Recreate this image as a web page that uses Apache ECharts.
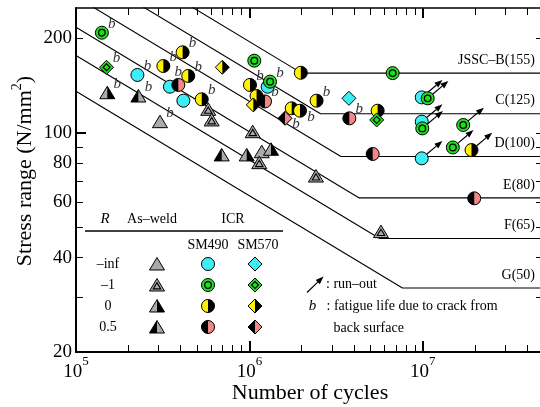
<!DOCTYPE html>
<html><head><meta charset="utf-8">
<script src="https://cdn.jsdelivr.net/npm/echarts@6.0.0/dist/echarts.min.js"></script>
<style>html,body{margin:0;padding:0;background:#fff}#c{width:540px;height:407px}</style>
</head><body><div id="c"></div>
<script>
// ---------------- data ----------------
const xLabelTicks = [1e5, 1e6, 1e7];
const xMajorTicks = [1e6, 1e7];
const xMinorTicks = [2e5,3e5,4e5,5e5,6e5,7e5,8e5,9e5,2e6,3e6,4e6,5e6,6e6,7e6,8e6,9e6,2e7,3e7,4e7];
const yLabelTicks = [20, 40, 60, 80, 100, 200];
const yMinorTicks = [20, 30, 40, 50, 60, 70, 80, 90, 200];
const yMajorTicks = [100];
const yRightTicks = [20, 30, 40, 50, 60, 70, 80, 90, 100, 200];

// JSSC design curves (N, stress range)
const snNames = ['JSSC\u2013B(155)', 'C(125)', 'D(100)', 'E(80)', 'F(65)', 'G(50)'];
const snB = [[1e5, 420.7], [2.00e6, 155], [5e7, 155]];
const snC = [[1e5, 339.3], [2.57e6, 115], [5e7, 115]];
const snD = [[1e5, 271.4], [3.37e6, 84], [5e7, 84]];
const snE = [[1e5, 217.2], [4.30e6, 62], [5e7, 62]];
const snF = [[1e5, 176.4], [5.64e6, 46], [5e7, 46]];
const snG = [[1e5, 135.7], [7.63e6, 32], [5e7, 32]];

// test results [N, stress range, note]  note: b = crack from back surface, r = run-out
const asWeldInf = [[3.05e5, 108.5, 'b'], [1.178e6, 87.0]];
const asWeldM1  = [[5.79e5, 118.8], [6.06e5, 109.9], [1.045e6, 100.8], [1.14e6, 80.3], [2.42e6, 72.8], [5.74e6, 48.4]];
const asWeld0   = [[1.515e5, 134.2, 'b'], [9.65e5, 85.0], [1.332e6, 88.6]];
const asWeld05  = [[2.29e5, 131.0, 'b'], [6.92e5, 85.0]];
const sm490Inf  = [[2.26e5, 152.9, 'b'], [3.48e5, 140.3], [4.16e5, 126.6], [1.275e6, 140.3], [9.86e6, 129.7, 'r'], [9.86e6, 108.5, 'r'], [9.86e6, 82.9, 'r']];
const sm490M1   = [[1.41e5, 208.5, 'b'], [1.067e6, 169.8], [1.315e6, 145.6, 'b'], [6.70e6, 155], [1.067e7, 128.8, 'r'], [9.93e6, 103.3, 'r'], [1.71e7, 105.9, 'r'], [1.49e7, 89.8, 'r']];
const sm490R0   = [[3.19e5, 163.3, 'b'], [4.12e5, 180.6, 'b'], [4.44e5, 151.8, 'b'], [5.31e5, 127.9, 'b'], [1.008e6, 142.1, 'b'], [1.10e6, 131.0], [1.754e6, 119.7], [1.958e6, 117.6, 'b3'], [1.98e6, 155.4], [2.44e6, 126.6, 'b'], [5.49e6, 117.6], [1.91e7, 88.1, 'r']];
const sm490R05  = [[3.89e5, 142.1, 'b2'], [1.23e6, 125.9, 'b'], [3.77e6, 111.2, 'b'], [5.14e6, 85.6], [1.98e7, 61.8]];
const sm570Inf  = [[3.75e6, 128.8]];
const sm570M1   = [[1.50e5, 161.8, 'b'], [5.42e6, 109.9]];
const sm570R0   = [[6.98e5, 161.8], [1.053e6, 122.7]];
const sm570R05  = [[1.605e6, 111.2, 'b3']];

// legend texts
const legendRowLabels = ['\u2013inf', '\u20131', '0', '0.5'];
const legendHeads = ['As\u2013weld', 'ICR'];
const legendSubHeads = ['SM490', 'SM570'];

// ---------------- styles ----------------
const FONT = 'Liberation Serif';
const COL = {gray: '#aaaaaa', cyan: '#3fedf7', green: '#22dd22', yellow: '#fff100', pink: '#f28787', black: '#000000'};
const specs = {
  T_inf: {shape: 'T', l: COL.gray, r: COL.gray, inner: false},
  T_m1:  {shape: 'T', l: COL.gray, r: COL.gray, inner: true},
  T_0:   {shape: 'T', l: COL.gray, r: COL.black, inner: false},
  T_05:  {shape: 'T', l: COL.black, r: COL.gray, inner: false},
  C_inf: {shape: 'C', l: COL.cyan, r: COL.cyan, inner: false},
  C_m1:  {shape: 'C', l: COL.green, r: COL.green, inner: true},
  C_0:   {shape: 'C', l: COL.yellow, r: COL.black, inner: false},
  C_05:  {shape: 'C', l: COL.black, r: COL.pink, inner: false},
  D_inf: {shape: 'D', l: COL.cyan, r: COL.cyan, inner: false},
  D_m1:  {shape: 'D', l: COL.green, r: COL.green, inner: true},
  D_0:   {shape: 'D', l: COL.yellow, r: COL.black, inner: false},
  D_05:  {shape: 'D', l: COL.black, r: COL.pink, inner: false}
};

function polyGeom(shape, cx, cy) {
  if (shape === 'T') {
    return {full: [[cx, cy - 6.5], [cx + 7.5, cy + 6], [cx - 7.5, cy + 6]],
            right: [[cx, cy - 6.5], [cx + 7.5, cy + 6], [cx, cy + 6]],
            c: [cx, cy + 1.8]};
  }
  return {full: [[cx, cy - 7], [cx + 7, cy], [cx, cy + 7], [cx - 7, cy]],
          right: [[cx, cy - 7], [cx + 7, cy], [cx, cy + 7]],
          c: [cx, cy]};
}

function markerEls(spec, cx, cy) {
  const els = [];
  if (spec.shape === 'C') {
    const R = 6.5;
    els.push({type: 'circle', shape: {cx: cx, cy: cy, r: R}, style: {fill: spec.l, stroke: 'none'}});
    if (spec.r !== spec.l) {
      els.push({type: 'sector', shape: {cx: cx, cy: cy, r0: 0, r: R, startAngle: -Math.PI / 2, endAngle: Math.PI / 2, clockwise: true}, style: {fill: spec.r, stroke: 'none'}});
    }
    if (spec.inner) {
      els.push({type: 'circle', shape: {cx: cx, cy: cy, r: 3.3}, style: {fill: 'none', stroke: '#000', lineWidth: 1.3}});
    }
    els.push({type: 'circle', shape: {cx: cx, cy: cy, r: R}, style: {fill: 'none', stroke: '#000', lineWidth: 1}});
  } else {
    const g = polyGeom(spec.shape, cx, cy);
    els.push({type: 'polygon', shape: {points: g.full}, style: {fill: spec.l, stroke: 'none'}});
    if (spec.r !== spec.l) {
      els.push({type: 'polygon', shape: {points: g.right}, style: {fill: spec.r, stroke: 'none'}});
    }
    if (spec.inner) {
      const k = 0.5;
      const pts = g.full.map(p => [g.c[0] + (p[0] - g.c[0]) * k, g.c[1] + (p[1] - g.c[1]) * k]);
      els.push({type: 'polygon', shape: {points: pts}, style: {fill: 'none', stroke: '#000', lineWidth: 1.1}});
    }
    els.push({type: 'polygon', shape: {points: g.full}, style: {fill: 'none', stroke: '#000', lineWidth: 1}});
  }
  return els;
}

function arrowEls(x0, y0, x1, y1) {
  const dx = x1 - x0, dy = y1 - y0, L = Math.sqrt(dx * dx + dy * dy);
  const ux = dx / L, uy = dy / L, px = -uy, py = ux;
  const hx = x1 - ux * 8, hy = y1 - uy * 8;
  return [
    {type: 'line', shape: {x1: x0, y1: y0, x2: hx, y2: hy}, style: {stroke: '#000', lineWidth: 1.2}},
    {type: 'polygon', shape: {points: [[x1, y1], [hx + px * 3, hy + py * 3], [hx - px * 3, hy - py * 3]]}, style: {fill: '#000', stroke: 'none'}}
  ];
}

const B_OFF = {b: [10, -9], b2: [0, -13], b3: [11, 6]};
function bText(code, cx, cy) {
  const o = B_OFF[code];
  return {type: 'text', x: cx + o[0], y: cy + o[1],
          style: {text: 'b', fontSize: 15, fontStyle: 'italic', fontFamily: FONT, fill: '#333', align: 'center', verticalAlign: 'middle'}};
}

function markerSeries(arr, key) {
  const spec = specs[key];
  return {
    type: 'custom', xAxisIndex: 0, yAxisIndex: 0, z: 5, silent: true,
    data: arr.map(d => [d[0], d[1]]),
    encode: {x: 0, y: 1},
    renderItem: function (params, api) {
      const d = arr[params.dataIndex];
      const p = api.coord([api.value(0), api.value(1)]);
      const note = d[2] || '';
      let children = [];
      if (note === 'r') {
        const a = 40 * Math.PI / 180;
        children = children.concat(arrowEls(p[0] + 6 * Math.cos(a), p[1] - 6 * Math.sin(a), p[0] + 27 * Math.cos(a), p[1] - 27 * Math.sin(a)));
      }
      children = children.concat(markerEls(spec, p[0], p[1]));
      if (note[0] === 'b') children.push(bText(note, p[0], p[1]));
      return {type: 'group', children: children};
    }
  };
}

const snLines = [snB, snC, snD, snE, snF, snG];
const series = [];
snLines.forEach(function (l, i) {
  series.push({type: 'line', xAxisIndex: 0, yAxisIndex: 0, data: l, symbol: 'none', z: 1, silent: true,
    clip: true, lineStyle: {color: '#000', width: 1.1}});
});
series.push({
  type: 'custom', xAxisIndex: 0, yAxisIndex: 0, z: 2, silent: true,
  data: snLines.map(l => l[l.length - 1]),
  encode: {x: 0, y: 1},
  renderItem: function (params, api) {
    const p = api.coord([api.value(0), api.value(1)]);
    return {type: 'text', x: p[0] - 9, y: p[1] - 13,
      style: {text: snNames[params.dataIndex], fontSize: 14, fontFamily: FONT, fill: '#000', align: 'right', verticalAlign: 'middle'}};
  }
});
series.push(markerSeries(asWeldInf, 'T_inf'));
series.push(markerSeries(asWeldM1, 'T_m1'));
series.push(markerSeries(asWeld0, 'T_0'));
series.push(markerSeries(asWeld05, 'T_05'));
series.push(markerSeries(sm490Inf, 'C_inf'));
series.push(markerSeries(sm490M1, 'C_m1'));
series.push(markerSeries(sm490R0, 'C_0'));
series.push(markerSeries(sm490R05, 'C_05'));
series.push(markerSeries(sm570Inf, 'D_inf'));
series.push(markerSeries(sm570M1, 'D_m1'));
series.push(markerSeries(sm570R0, 'D_0'));
series.push(markerSeries(sm570R05, 'D_05'));

// ---------------- legend (graphic) ----------------
const txt = (t, x, y, size, align, italic) => ({type: 'text', x: x, y: y, z: 10,
  style: {text: t, fontSize: size, fontFamily: FONT, fontStyle: italic ? 'italic' : 'normal', fill: '#000', align: align, verticalAlign: 'middle'}});
const graphics = [];
graphics.push(txt('R', 105, 219, 15, 'center', true));
graphics.push(txt(legendHeads[0], 152, 219, 14, 'center'));
graphics.push(txt(legendHeads[1], 233, 219, 14, 'center'));
graphics.push({type: 'line', z: 10, shape: {x1: 85, y1: 231, x2: 283, y2: 231}, style: {stroke: '#000', lineWidth: 1.3}});
graphics.push(txt(legendSubHeads[0], 208, 245, 14, 'center'));
graphics.push(txt(legendSubHeads[1], 258, 245, 14, 'center'));
const rowKeys = [['T_inf', 'C_inf', 'D_inf'], ['T_m1', 'C_m1', 'D_m1'], ['T_0', 'C_0', 'D_0'], ['T_05', 'C_05', 'D_05']];
const rowY = [264, 285, 306, 327];
const colX = [157, 208, 255];
rowKeys.forEach(function (keys, i) {
  graphics.push(txt(legendRowLabels[i], 108, rowY[i], 14, 'center'));
  keys.forEach(function (k, j) {
    graphics.push({type: 'group', z: 10, children: markerEls(specs[k], colX[j], rowY[i])});
  });
});
graphics.push({type: 'group', z: 10, children: arrowEls(307, 292.5, 323.5, 276.5)});
graphics.push(txt(': run\u2013out', 326, 284, 14, 'left'));
graphics.push(txt('b', 312.5, 306.5, 15, 'center', true));
graphics.push(txt(': fatigue life due to crack from', 326.5, 306.5, 14, 'left'));
graphics.push(txt('back surface', 333.5, 328, 14, 'left'));

// ---------------- axes ----------------
const X_MIN = 1e5, X_MAX = 5e7, Y_MIN = 20, Y_MAX = 250;
function xAxisBase(pos) {
  return {type: 'log', logBase: 10, gridIndex: 0, position: pos, min: X_MIN, max: X_MAX,
    splitLine: {show: false}, minorTick: {show: false}, minorSplitLine: {show: false},
    axisLine: {show: false}, axisTick: {show: false}, axisLabel: {show: false}, axisPointer: {show: false}};
}
function yAxisBase(pos) {
  return {type: 'log', logBase: 10, gridIndex: 0, position: pos, min: Y_MIN, max: Y_MAX,
    splitLine: {show: false}, minorTick: {show: false}, minorSplitLine: {show: false},
    axisLine: {show: false}, axisTick: {show: false}, axisLabel: {show: false}, axisPointer: {show: false}};
}
const xA0 = xAxisBase('bottom');
xA0.axisLine = {show: true, onZero: false, lineStyle: {color: '#000', width: 2}};
xA0.axisTick = {show: true, inside: true, length: 7, customValues: xMinorTicks, lineStyle: {color: '#000', width: 1}};
xA0.axisLabel = {show: true, customValues: xLabelTicks, margin: 3, color: '#000',
  formatter: v => '{b|10}{s|' + Math.round(Math.log10(v)) + '}',
  rich: {b: {fontSize: 19, fontFamily: FONT, color: '#000', verticalAlign: 'bottom'},
         s: {fontSize: 13, fontFamily: FONT, color: '#000', verticalAlign: 'bottom', padding: [0, 0, 14, 0]}}};
xA0.name = 'Number of cycles';
xA0.nameLocation = 'middle';
xA0.nameGap = 30;
xA0.nameMoveOverlap = false;
xA0.nameTextStyle = {fontSize: 22, fontFamily: FONT, color: '#000'};
const xA1 = xAxisBase('bottom');
xA1.axisTick = {show: true, inside: true, length: 11, customValues: xMajorTicks, lineStyle: {color: '#000', width: 2}};
const xA2 = xAxisBase('top');
xA2.axisLine = {show: true, onZero: false, lineStyle: {color: '#000', width: 1.5}};
xA2.axisTick = {show: true, inside: true, length: 7, customValues: xMinorTicks, lineStyle: {color: '#000', width: 1}};
const xA3 = xAxisBase('top');
xA3.axisTick = {show: true, inside: true, length: 10, customValues: xMajorTicks, lineStyle: {color: '#000', width: 2}};

const yA0 = yAxisBase('left');
yA0.axisLine = {show: true, onZero: false, lineStyle: {color: '#000', width: 2}};
yA0.axisTick = {show: true, inside: true, length: 7, customValues: yMinorTicks, lineStyle: {color: '#000', width: 1}};
yA0.axisLabel = {show: true, customValues: yLabelTicks, margin: 4, color: '#000', fontSize: 19, fontFamily: FONT};
yA0.name = '{m|Stress range (N/mm}{s|2}{m|)}';
yA0.nameLocation = 'middle';
yA0.nameRotate = 90;
yA0.nameGap = 40;
yA0.nameMoveOverlap = false;
yA0.nameTextStyle = {fontSize: 22, fontFamily: FONT, color: '#000', padding: [0, 0, 0, 18],
  rich: {m: {fontSize: 22, fontFamily: FONT, color: '#000', verticalAlign: 'bottom'},
         s: {fontSize: 14, fontFamily: FONT, color: '#000', verticalAlign: 'bottom', padding: [0, 0, 12, 0]}}};
const yA1 = yAxisBase('left');
yA1.axisTick = {show: true, inside: true, length: 10, customValues: yMajorTicks, lineStyle: {color: '#000', width: 2}};
const yA2 = yAxisBase('right');
yA2.axisLine = {show: true, onZero: false, lineStyle: {color: '#000', width: 2}};
yA2.axisTick = {show: true, inside: true, length: 8, customValues: yRightTicks, lineStyle: {color: '#000', width: 1}};

const chart = echarts.init(document.getElementById('c'), null, {renderer: 'canvas'});
chart.setOption({
  animation: false,
  backgroundColor: '#ffffff',
  grid: {left: 76, right: -4, top: 8, bottom: 55, containLabel: false, outerBoundsMode: 'none'},
  xAxis: [xA0, xA1, xA2, xA3],
  yAxis: [yA0, yA1, yA2],
  series: series,
  graphic: graphics
});
</script>
</body></html>
